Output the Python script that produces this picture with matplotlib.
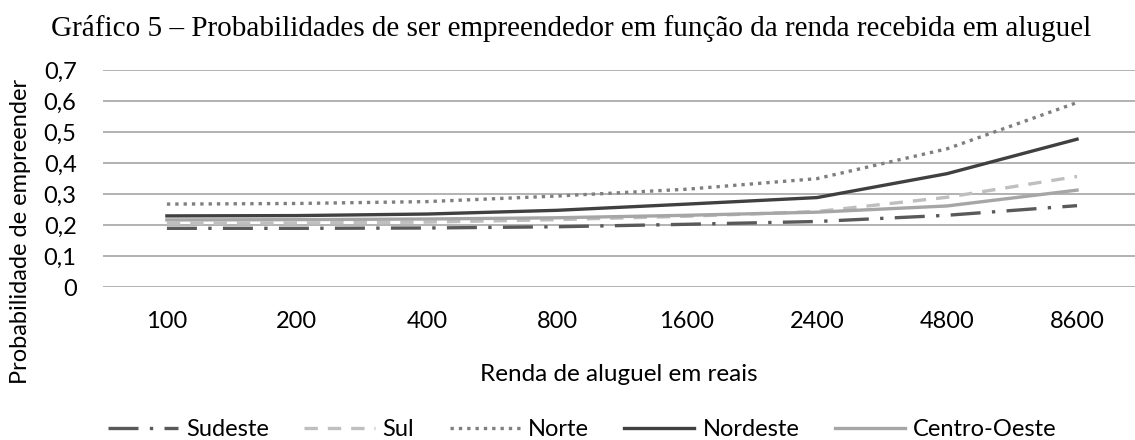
import matplotlib.pyplot as plt

plt.rcParams['font.family'] = ['Lato', 'DejaVu Sans']

# categorias (renda de aluguel em reais)
rendas = ["100", "200", "400", "800", "1600", "2400", "4800", "8600"]

# probabilidades
sudeste = [0.190, 0.190, 0.191, 0.195, 0.203, 0.212, 0.232, 0.263]
sul = [0.206, 0.207, 0.210, 0.218, 0.229, 0.244, 0.290, 0.357]
norte = [0.268, 0.270, 0.276, 0.294, 0.316, 0.350, 0.446, 0.595]
nordeste = [0.230, 0.231, 0.236, 0.248, 0.268, 0.289, 0.366, 0.477]
centro_oeste = [0.217, 0.218, 0.220, 0.224, 0.232, 0.242, 0.262, 0.313]

yticks = [0, 0.1, 0.2, 0.3, 0.4, 0.5, 0.6, 0.7]
ylabels = ["0", "0,1", "0,2", "0,3", "0,4", "0,5", "0,6", "0,7"]

fig = plt.figure(figsize=(11.35, 4.4), dpi=100)
ax = fig.add_axes([0.0907, 0.347, 0.9093, 0.494])

x = range(len(rendas))
lw = 2.4
ax.plot(x, sudeste, color="#595959", lw=lw, dashes=(9, 3.4, 1, 3.4), label="Sudeste")
ax.plot(x, sul, color="#BFBFBF", lw=lw, dashes=(4, 3), label="Sul")
ax.plot(x, norte, color="#7F7F7F", lw=lw, dashes=(1, 1.5), label="Norte")
ax.plot(x, nordeste, color="#404040", lw=lw, label="Nordeste")
ax.plot(x, centro_oeste, color="#A6A6A6", lw=lw, label="Centro-Oeste")

ax.set_xlim(-0.492, 7.446)
ax.set_ylim(0, 0.7)
ax.set_xticks(list(x))
ax.set_xticklabels(rendas)
ax.set_yticks(yticks)
ax.set_yticklabels(ylabels)
ax.tick_params(length=0, labelsize=17)
ax.tick_params(axis="x", pad=17)
ax.tick_params(axis="y", pad=19)
for s in ax.spines.values():
    s.set_visible(False)
ax.grid(axis="y", color="#A6A6A6", lw=1.2)
ax.set_axisbelow(True)

ax.set_xlabel("Renda de aluguel em reais", fontsize=17.5, labelpad=23)
# título do eixo y
fig.text(0.018, 0.473, "Probabilidade de empreender", rotation=90,
         ha="center", va="center", fontsize=17)

fig.text(0.503, 0.935, "Gráfico 5 – Probabilidades de ser empreendedor em função da renda recebida em aluguel",
         ha="center", va="center", fontsize=21, family="Liberation Serif")

ax.legend(loc="center", bbox_to_anchor=(0.513, 0.023), bbox_transform=fig.transFigure,
          ncol=5, frameon=False, fontsize=17, handlelength=2.97, handletextpad=0.34,
          columnspacing=1.5)

fig.savefig("out.png", dpi=100)
